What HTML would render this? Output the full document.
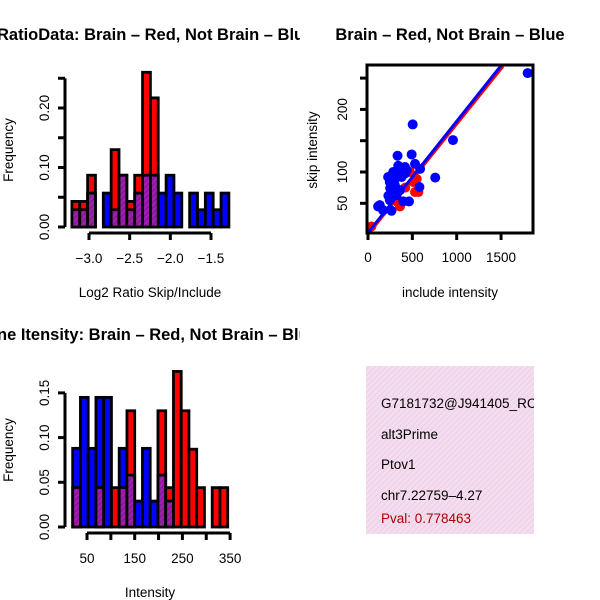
<!DOCTYPE html>
<html><head><meta charset="utf-8"><style>
html,body{margin:0;padding:0;background:#fff}
svg{display:block;font-family:"Liberation Sans",sans-serif}
</style></head><body>
<svg id="c" width="600" height="600" viewBox="0 0 600 600" xmlns="http://www.w3.org/2000/svg">
<defs>
<pattern id="hatch" width="4" height="4" patternUnits="userSpaceOnUse" patternTransform="rotate(45)">
<rect width="4" height="4" fill="#8a1a9a"/><rect width="2" height="4" fill="#a020b0"/></pattern>
<pattern id="pinkhatch" width="4" height="4" patternUnits="userSpaceOnUse" patternTransform="rotate(45)">
<rect width="4" height="4" fill="#f6dcf2"/><rect width="1" height="4" fill="#e8d2dc"/></pattern>
<clipPath id="clipL"><rect x="0" y="0" width="300" height="600"/></clipPath>
<clipPath id="clipBox"><rect x="366" y="366" width="168" height="168"/></clipPath>
<clipPath id="clipSc"><rect x="368" y="66" width="164" height="166"/></clipPath>
</defs>
<g id="g1"></g>
<g id="g2"></g>
<g id="g3"></g>
<g>
<rect x="366" y="366" width="168" height="168" fill="url(#pinkhatch)"/>
<g clip-path="url(#clipBox)" font-size="13.5">
<text x="381" y="408">G7181732@J941405_RC</text>
<text x="381" y="439">alt3Prime</text>
<text x="381" y="469">Ptov1</text>
<text x="381" y="500">chr7.22759–4.27</text>
<text x="381" y="523" fill="#b00000">Pval: 0.778463</text>
</g></g>
</svg>
<script>
// ---- Histogram 1 data (Log2 ratio) ----
const h1Start = -3.21, h1Width = 0.0965;
const h1Red  = [0.043,0.043,0.087,0,0,0.13,0.087,0.043,0.087,0.26,0.217,0,0,0,0,0,0,0,0,0];
const h1Blue = [0.029,0.029,0.057,0,0.057,0.029,0.087,0.029,0.057,0.087,0.087,0.057,0.087,0.057,0,0.057,0.029,0.057,0.029,0.057];
const h1XTicks = [-3.0,-2.5,-2.0,-1.5];
const h1XLabels = ["−3.0","−2.5","−2.0","−1.5"];
const h1YTicks = [0,0.05,0.10,0.15,0.20,0.25];
const h1YLabels = ["0.00","","0.10","","0.20",""];
// ---- Histogram 2 data (Intensity) ----
const h2Start = 20, h2Width = 16.25;
const h2Red  = [0.044,0,0,0.044,0,0.044,0.044,0.13,0,0,0,0.13,0.044,0.174,0.13,0.087,0.044,0,0.044,0.044];
const h2Blue = [0.088,0.145,0.088,0.145,0.145,0,0.088,0.058,0.029,0.088,0.029,0.058,0.029,0,0,0,0,0,0,0];
const h2XTicks = [50,100,150,200,250,300,350];
const h2XLabels = ["50","","150","","250","","350"];
const h2YTicks = [0,0.05,0.10,0.15];
const h2YLabels = ["0.00","0.05","0.10","0.15"];
// ---- Scatter data ----
const blueX = [1800,504,958,333,492,530,758,587,417,284,227,360,462,580,133,114,170,265,246,303,265,246,322,360,398,436,379,341,420,300,230,250];
const blueY = [258,176,151,126,128,113,91,105,108,100,92,97,53,76,47,45,39,38,84,79,68,55,63,71,53,103,92,110,98,88,62,74];
const redX = [38,530,568,511,473,360,322,265,549,300,420];
const redY = [13,68,68,84,100,45,53,68,89,60,75];
const blueFit = [0,3,1500,270];
const redFit = [0,1,1520,269];
const scXTicks = [0,500,1000,1500];
const scYTicks = [50,100,150,200,250];
const scYLabels = ["50","100","","200",""];

const FS = 13.5, TFS = 16.5;
const NS="http://www.w3.org/2000/svg";
function mk(parent,tag,attrs){const e=document.createElementNS(NS,tag);for(const k in attrs)e.setAttribute(k,attrs[k]);parent.appendChild(e);return e;}

function hist(g,start,w,red,blue,xs,ys,xT,xL,yT,yL,ax,title,xlab,prefix){
  const x0 = ax.x0, y0 = ax.y0;
  for(let i=0;i<red.length;i++){
    const a=start+i*w,b=a+w,r=red[i],bl=blue[i];
    const hi=Math.max(r,bl),lo=Math.min(r,bl);
    if(hi>0){
      const rc=mk(g,'rect',{x:xs(a),y:ys(hi),width:xs(b)-xs(a),height:ys(0)-ys(hi),fill:r>=bl?'#ff0000':'#0000ff',stroke:'#000','stroke-width':2.8});
      
      
    }
    if(lo>0){
      const pc=mk(g,'rect',{x:xs(a),y:ys(lo),width:xs(b)-xs(a),height:ys(0)-ys(lo),fill:'url(#hatch)',stroke:'#000','stroke-width':2.8});
      
      
    }
  }
  const ya=mk(g,'line',{x1:x0,x2:x0,y1:ys(yT[0]),y2:ys(yT[yT.length-1]),stroke:'#000','stroke-width':3});
  
  
  yT.forEach((t,i)=>{
    mk(g,'line',{x1:x0-7,x2:x0,y1:ys(t),y2:ys(t),stroke:'#000','stroke-width':3});
    if(yL[i]){const tx=mk(g,'text',{x:0,y:0,transform:`translate(${x0-16},${ys(t)}) rotate(-90)`,'text-anchor':'middle','font-size':FS});tx.textContent=yL[i];
      
      }
  });
  const xa=mk(g,'line',{x1:xs(xT[0]),x2:xs(xT[xT.length-1]),y1:y0,y2:y0,stroke:'#000','stroke-width':3});
  
  
  xT.forEach((t,i)=>{
    mk(g,'line',{x1:xs(t),x2:xs(t),y1:y0,y2:y0+7,stroke:'#000','stroke-width':3});
    if(xL[i]){const tx=mk(g,'text',{x:xs(t),y:y0+30,'text-anchor':'middle','font-size':FS});tx.textContent=xL[i];
      
      }
  });
  const yl=mk(g,'text',{x:0,y:0,transform:`translate(13,${ax.ymid}) rotate(-90)`,'text-anchor':'middle','font-size':FS});yl.textContent='Frequency';
  
  
  const xl=mk(g,'text',{x:150,y:y0+64,'text-anchor':'middle','font-size':FS});xl.textContent=xlab;
  
  
  const tg=mk(g,'g',{'clip-path':'url(#clipL)'});
  const tt=mk(tg,'text',{x:title.x,y:title.y,'font-size':TFS,'font-weight':'bold'});tt.textContent=title.t;
  
  
}

const xs1=v=>89+(v+3.0)*81.33, ys1=v=>227-v*595;
hist(document.getElementById('g1'),h1Start,h1Width,h1Red,h1Blue,xs1,ys1,h1XTicks,h1XLabels,h1YTicks,h1YLabels,
 {x0:65,y0:233,ymid:150},{x:-3,y:40,t:'RatioData: Brain – Red, Not Brain – Blue'},'Log2 Ratio Skip/Include','ratio');

const xs2=v=>87+(v-50)*0.477, ys2=v=>527-v*894;
hist(document.getElementById('g2'),h2Start,h2Width,h2Red,h2Blue,xs2,ys2,h2XTicks,h2XLabels,h2YTicks,h2YLabels,
 {x0:65,y0:533,ymid:450},{x:-3,y:340,t:'ne Itensity: Brain – Red, Not Brain – Blue'},'Intensity','intensity');

(function(){
  const g=document.getElementById('g3');
  const xs=v=>368+v*0.0887, ys=v=>234.6-v*0.626;
  const cg=mk(g,'g',{'clip-path':'url(#clipSc)'});
  redX.forEach((x,i)=>{const c=mk(cg,'circle',{cx:xs(x),cy:ys(redY[i]),r:5,fill:'#ff0000'});
    
    });
  const rl=mk(cg,'line',{x1:xs(redFit[0]),y1:ys(redFit[1]),x2:xs(redFit[2]),y2:ys(redFit[3]),stroke:'#ff0000','stroke-width':3.5});
  
  
  blueX.forEach((x,i)=>{const c=mk(cg,'circle',{cx:xs(x),cy:ys(blueY[i]),r:5,fill:'#0000ff'});
    
    });
  const bl=mk(cg,'line',{x1:xs(blueFit[0]),y1:ys(blueFit[1]),x2:xs(blueFit[2]),y2:ys(blueFit[3]),stroke:'#0000ff','stroke-width':3});
  
  
  const box=mk(g,'rect',{x:367,y:65,width:166,height:168,fill:'none',stroke:'#000','stroke-width':3});
  
  
  scXTicks.forEach(t=>{mk(g,'line',{x1:xs(t),x2:xs(t),y1:233,y2:240,stroke:'#000','stroke-width':3});
    const tx=mk(g,'text',{x:xs(t),y:262,'text-anchor':'middle','font-size':FS});tx.textContent=String(t);
    
    });
  scYTicks.forEach((t,i)=>{mk(g,'line',{x1:360,x2:367,y1:ys(t),y2:ys(t),stroke:'#000','stroke-width':3});
    if(scYLabels[i]){const tx=mk(g,'text',{x:0,y:0,transform:`translate(347,${ys(t)}) rotate(-90)`,'text-anchor':'middle','font-size':FS});tx.textContent=scYLabels[i];
    
    }});
  const xl=mk(g,'text',{x:450,y:297,'text-anchor':'middle','font-size':FS});xl.textContent='include intensity';
  
  
  const yl=mk(g,'text',{x:0,y:0,transform:'translate(317,150) rotate(-90)','text-anchor':'middle','font-size':FS});yl.textContent='skip intensity';
  
  
  const tt=mk(g,'text',{x:450,y:40,'text-anchor':'middle','font-size':TFS,'font-weight':'bold'});tt.textContent='Brain – Red, Not Brain – Blue';
  
  
})();
</script>
</body></html>
